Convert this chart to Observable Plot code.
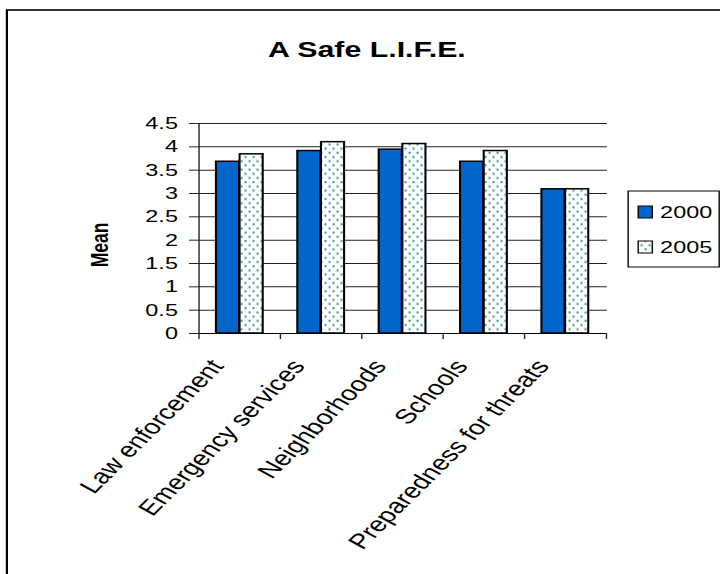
<!DOCTYPE html>
<html><head><meta charset="utf-8">
<script src="https://cdn.jsdelivr.net/npm/d3@7"></script>
<script src="https://cdn.jsdelivr.net/npm/@observablehq/plot@0.6"></script>
<style>html,body{margin:0;padding:0;background:#fff;} #chart svg{display:block}</style>
</head><body><div id="chart"></div>
<script>
const categories = ["Law enforcement", "Emergency services", "Neighborhoods", "Schools", "Preparedness for threats"];
const years = ["2000", "2005"];
const values2000 = [3.68, 3.91, 3.94, 3.68, 3.09];
const values2005 = [3.84, 4.10, 4.06, 3.91, 3.09];
const yTicks = [0, 0.5, 1, 1.5, 2, 2.5, 3, 3.5, 4, 4.5];
const title = "A Safe L.I.F.E.";
const yLabel = "Mean";

const d2000 = categories.map((c, i) => ({category: c, year: years[0], value: values2000[i]}));
const d2005 = categories.map((c, i) => ({category: c, year: years[1], value: values2005[i]}));

// Chart is laid out in a narrower space then stretched horizontally, like the reference
const W = 522, H = 574, SX = 720 / W;
const mL = 143, mR = 82, mT = 123, mB = 241;
const step = (W - mL - mR) / categories.length;
const gap = 0.211 * step;
const bw = (step - 2 * gap) / 2;
const font = "'Liberation Sans', Arial, sans-serif";
const blue = "#0066cc";

const svg = Plot.plot({
  width: W, height: H,
  marginLeft: mL, marginRight: mR, marginTop: mT, marginBottom: mB,
  style: {fontFamily: font, color: "#000", background: "#fff"},
  x: {type: "band", domain: categories, paddingInner: 0, paddingOuter: 0},
  y: {domain: [0, 4.5]},
  marks: [
    Plot.gridY(yTicks, {stroke: "#222", strokeOpacity: 1, strokeWidth: 1}),
    Plot.barY(d2000, {x: "category", y: "value", fill: blue, stroke: "#000", strokeWidth: 1.5, insetLeft: gap, insetRight: gap + bw}),
    Plot.barY(d2005, {x: "category", y: "value", fill: "url(#dots)", stroke: "#000", strokeWidth: 1.5, insetLeft: gap + bw, insetRight: gap}),
    Plot.ruleY([0], {stroke: "#000", strokeWidth: 1}),
    Plot.ruleX([categories[0]], {x: d => d, y1: 0, y2: 4.5, dx: -step / 2, stroke: "#222", strokeWidth: 1}),
    Plot.axisY(yTicks, {tickSize: 6, tickPadding: 8.5, tickFormat: d => String(d), fontSize: 17, stroke: "#222", label: null}),
    Plot.axisX(categories, {tickSize: 6, tickFormat: () => "", dx: -step / 2, stroke: "#222", label: null}),
    Plot.axisX([categories[categories.length - 1]], {tickSize: 6, tickFormat: () => "", dx: step / 2, stroke: "#222", label: null}),
    Plot.text(categories, {x: d => d, frameAnchor: "bottom", text: d => d, rotate: -53.5, textAnchor: "end", lineAnchor: "middle", dx: -16.4, dy: 29, fontSize: 20.8, fill: "#000"})
  ]
});

const s = d3.select(svg);
const defs = s.insert("defs", ":first-child");
const pat = defs.append("pattern").attr("id", "dots").attr("patternUnits", "userSpaceOnUse")
  .attr("width", 5.8).attr("height", 8.4);
pat.append("rect").attr("width", 5.8).attr("height", 8.4).attr("fill", "#fff");
pat.append("rect").attr("x", 0.4).attr("y", 0.6).attr("width", 1.45).attr("height", 2).attr("fill", "#2f9696");
pat.append("rect").attr("x", 3.3).attr("y", 4.8).attr("width", 1.45).attr("height", 2).attr("fill", "#2f9696");

// outer chart border (top and left visible)
s.append("rect").attr("x", 5).attr("y", 10).attr("width", W + 20).attr("height", H + 20)
  .attr("fill", "none").attr("stroke", "#000").attr("stroke-width", 1.6);

// title
s.append("text").attr("x", 266).attr("y", 57).attr("text-anchor", "middle")
  .attr("font-family", font).attr("font-weight", "bold").attr("font-size", 22).text(title);

// y label
s.append("text").attr("transform", "translate(78.5,245) rotate(-90)").attr("text-anchor", "middle")
  .attr("font-family", font).attr("font-weight", "bold").attr("font-size", 17.5).text(yLabel);

// legend
const lg = s.append("g");
lg.append("rect").attr("x", 455.4).attr("y", 191).attr("width", 66).attr("height", 76)
  .attr("fill", "#fff").attr("stroke", "#000").attr("stroke-width", 1);
const fills = [blue, "url(#dots)"];
years.forEach((yr, i) => {
  const cy = 212 + i * 35;
  lg.append("rect").attr("x", 462.7).attr("y", cy - 6).attr("width", 10.2).attr("height", 12)
    .attr("fill", fills[i]).attr("stroke", "#000").attr("stroke-width", 1);
  lg.append("text").attr("x", 478.6).attr("y", cy + 6).attr("text-anchor", "start")
    .attr("font-family", font).attr("font-size", 17).text(yr);
});

svg.setAttribute("width", 720);
svg.setAttribute("height", H);
svg.setAttribute("viewBox", `0 0 ${W} ${H}`);
svg.setAttribute("preserveAspectRatio", "none");
svg.style.width = "720px";
svg.style.height = H + "px";
svg.style.maxWidth = "none";
document.getElementById("chart").appendChild(svg);
</script>
</body></html>
